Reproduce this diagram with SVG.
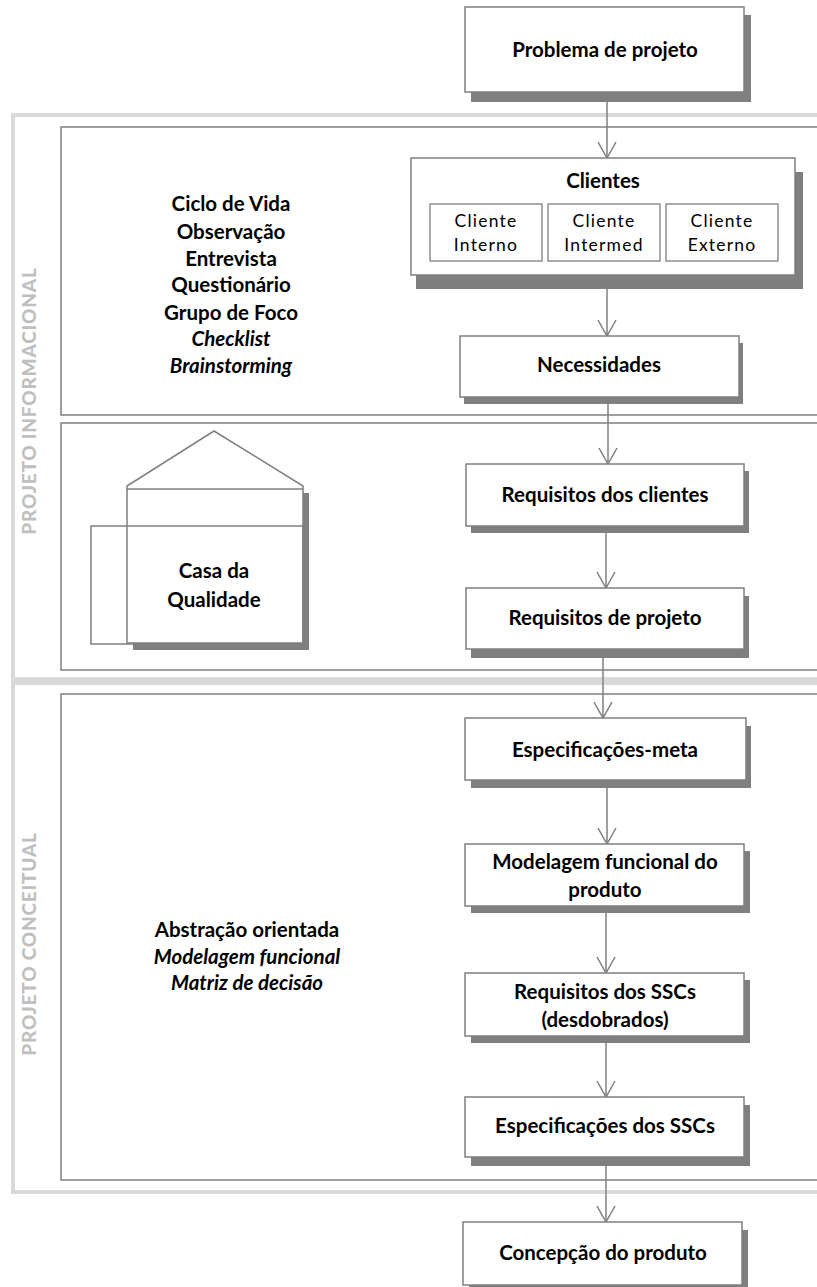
<svg xmlns="http://www.w3.org/2000/svg" width="817" height="1287" viewBox="0 0 817 1287">
  <style>
    .frame { fill: none; stroke: #d9d9d9; stroke-width: 4; }
    .panel { fill: none; stroke: #7f7f7f; stroke-width: 1.5; }
    .box { fill: #ffffff; stroke: #7f7f7f; stroke-width: 1.5; }
    .sub { fill: #ffffff; stroke: #7f7f7f; stroke-width: 1.3; }
    .shadow { fill: #7f7f7f; stroke: none; }
    .edge { fill: none; stroke: #7f7f7f; stroke-width: 1.5; }
    .t { font-family: Lato, "Liberation Sans", sans-serif; font-weight: bold; font-size: 20.5px; fill: #000; text-anchor: middle; }
    .ti { font-family: Lato, "Liberation Sans", sans-serif; font-weight: bold; font-style: italic; font-size: 20.5px; fill: #000; text-anchor: middle; }
    .ts { font-family: Lato, "Liberation Sans", sans-serif; font-size: 17.5px; fill: #000; text-anchor: middle; letter-spacing: 1.2px; }
    .phase { font-family: Lato, "Liberation Sans", sans-serif; font-weight: 900; font-size: 19px; fill: #bfbfbf; text-anchor: middle; letter-spacing: 0.8px; }
  </style>
  <defs>
    <marker id="arrow" viewBox="-17 -10 18 20" markerWidth="18" markerHeight="20" refX="0" refY="0" orient="auto" markerUnits="userSpaceOnUse">
      <path d="M-16,-9 L0,0 L-16,9" fill="none" stroke="#7f7f7f" stroke-width="1.5"/>
    </marker>
  </defs>

  <rect width="817" height="1287" fill="#ffffff"/>

  <!-- phase frames -->
  <g id="phase-informacional">
    <rect class="frame" x="13" y="115" width="830" height="564"/>
    <text class="phase" transform="translate(36 401) rotate(-90)">PROJETO INFORMACIONAL</text>
  </g>
  <g id="phase-conceitual">
    <rect class="frame" x="13" y="683" width="830" height="509"/>
    <text class="phase" transform="translate(36 944) rotate(-90)">PROJETO CONCEITUAL</text>
  </g>

  <!-- stage panels -->
  <g id="panel-clientes">
    <rect class="panel" x="61" y="127" width="790" height="288"/>
    <text class="t" x="231" y="211">Ciclo de Vida</text>
    <text class="t" x="231" y="239">Observação</text>
    <text class="t" x="231" y="266">Entrevista</text>
    <text class="t" x="231" y="292">Questionário</text>
    <text class="t" x="231" y="320">Grupo de Foco</text>
    <text class="ti" x="231" y="346">Checklist</text>
    <text class="ti" x="231" y="373">Brainstorming</text>
  </g>
  <g id="panel-qfd">
    <rect class="panel" x="61" y="423" width="790" height="247"/>
  </g>
  <g id="panel-conceitual">
    <rect class="panel" x="61" y="694" width="790" height="486"/>
    <text class="t" x="247" y="937">Abstração orientada</text>
    <text class="ti" x="247" y="964">Modelagem funcional</text>
    <text class="ti" x="247" y="990">Matriz de decisão</text>
  </g>

  <!-- house of quality -->
  <g id="casa-qualidade">
    <rect class="shadow" x="133" y="493" width="176" height="157"/>
    <path class="box" d="M127,643 L127,486 L214,431 L303,486 L303,643 Z"/>
    <line class="edge" x1="127" y1="489" x2="303" y2="489"/>
    <rect class="panel" x="91" y="526" width="212" height="118"/>
    <text class="t" x="214" y="578">Casa da</text>
    <text class="t" x="214" y="607">Qualidade</text>
  </g>

  <!-- connectors -->
  <g id="connectors">
    <line class="edge" x1="607" y1="92" x2="607" y2="158" marker-end="url(#arrow)"/>
    <line class="edge" x1="607" y1="275" x2="607" y2="336" marker-end="url(#arrow)"/>
    <line class="edge" x1="608" y1="397" x2="608" y2="464" marker-end="url(#arrow)"/>
    <line class="edge" x1="606" y1="526" x2="606" y2="588" marker-end="url(#arrow)"/>
    <line class="edge" x1="603" y1="649" x2="603" y2="718" marker-end="url(#arrow)"/>
    <line class="edge" x1="607" y1="780" x2="607" y2="844" marker-end="url(#arrow)"/>
    <line class="edge" x1="606" y1="906" x2="606" y2="973" marker-end="url(#arrow)"/>
    <line class="edge" x1="606" y1="1036" x2="606" y2="1097" marker-end="url(#arrow)"/>
    <line class="edge" x1="606" y1="1157" x2="606" y2="1222" marker-end="url(#arrow)"/>
  </g>

  <!-- flow nodes -->
  <g id="problema">
    <rect class="shadow" x="471" y="15" width="280" height="87"/>
    <rect class="box" x="465" y="7" width="279" height="85"/>
    <text class="t" x="605" y="57">Problema de projeto</text>
  </g>
  <g id="clientes">
    <rect class="shadow" x="416" y="172" width="387" height="117"/>
    <rect class="box" x="411" y="158" width="384" height="117"/>
    <text class="t" x="603" y="188">Clientes</text>
    <rect class="sub" x="430" y="204" width="112" height="57"/>
    <rect class="sub" x="548" y="204" width="112" height="57"/>
    <rect class="sub" x="666" y="204" width="112" height="57"/>
    <text class="ts" x="486" y="227">Cliente</text>
    <text class="ts" x="486" y="251">Interno</text>
    <text class="ts" x="604" y="227">Cliente</text>
    <text class="ts" x="604" y="251">Intermed</text>
    <text class="ts" x="722" y="227">Cliente</text>
    <text class="ts" x="722" y="251">Externo</text>
  </g>
  <g id="necessidades">
    <rect class="shadow" x="464" y="343" width="279" height="61"/>
    <rect class="box" x="460" y="336" width="279" height="61"/>
    <text class="t" x="599" y="372">Necessidades</text>
  </g>
  <g id="requisitos-clientes">
    <rect class="shadow" x="471" y="471" width="278" height="62"/>
    <rect class="box" x="466" y="464" width="278" height="62"/>
    <text class="t" x="605" y="502">Requisitos dos clientes</text>
  </g>
  <g id="requisitos-projeto">
    <rect class="shadow" x="471" y="596" width="278" height="62"/>
    <rect class="box" x="466" y="588" width="278" height="61"/>
    <text class="t" x="605" y="625">Requisitos de projeto</text>
  </g>
  <g id="especificacoes-meta">
    <rect class="shadow" x="471" y="726" width="280" height="62"/>
    <rect class="box" x="465" y="718" width="281" height="62"/>
    <text class="t" x="605" y="757">Especificações-meta</text>
  </g>
  <g id="modelagem-funcional">
    <rect class="shadow" x="471" y="851" width="279" height="62"/>
    <rect class="box" x="465" y="844" width="279" height="62"/>
    <text class="t" x="605" y="869">Modelagem funcional do</text>
    <text class="t" x="605" y="897">produto</text>
  </g>
  <g id="requisitos-sscs">
    <rect class="shadow" x="471" y="980" width="279" height="63"/>
    <rect class="box" x="465" y="973" width="279" height="63"/>
    <text class="t" x="605" y="999">Requisitos dos SSCs</text>
    <text class="t" x="605" y="1027">(desdobrados)</text>
  </g>
  <g id="especificacoes-sscs">
    <rect class="shadow" x="471" y="1105" width="279" height="61"/>
    <rect class="box" x="465" y="1097" width="279" height="60"/>
    <text class="t" x="605" y="1133">Especificações dos SSCs</text>
  </g>
  <g id="concepcao">
    <rect class="shadow" x="469" y="1230" width="279" height="63"/>
    <rect class="box" x="463" y="1222" width="279" height="63"/>
    <text class="t" x="603" y="1260">Concepção do produto</text>
  </g>
</svg>
